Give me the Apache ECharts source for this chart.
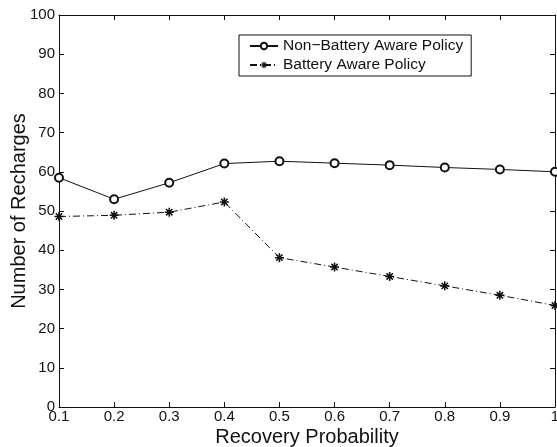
<!DOCTYPE html>
<html>
<head>
<meta charset="utf-8">
<style>
  html, body { margin: 0; padding: 0; background: #fff; }
  #chart { width: 557px; height: 447px; }
</style>
<script src="https://cdn.jsdelivr.net/npm/echarts@6/dist/echarts.min.js"></script>
</head>
<body>
<div id="chart"></div>
<script>
// Recovery probability on the x axis
const categories = ['0.1', '0.2', '0.3', '0.4', '0.5', '0.6', '0.7', '0.8', '0.9', '1'];
// Number of recharges per policy
const nonBatteryAware = [58.5, 53.0, 57.2, 62.1, 62.7, 62.2, 61.7, 61.1, 60.6, 60.0];
const batteryAware = [48.6, 48.9, 49.7, 52.3, 38.1, 35.7, 33.3, 30.9, 28.5, 25.9];
const seriesNames = ['Non\u2212Battery Aware Policy', 'Battery Aware Policy'];

const FONT = 'Liberation Sans, Arial, Helvetica, sans-serif';
const INK = '#111';

// Asterisk marker: a plus and a cross overlaid
const asterisk = 'path://M-1,-0.17L1,-0.17L1,0.17L-1,0.17Z' +
  'M-0.17,-1L0.17,-1L0.17,1L-0.17,1Z' +
  'M-0.587,-0.827L0.827,0.587L0.587,0.827L-0.827,-0.587Z' +
  'M-0.827,0.587L0.587,-0.827L0.827,-0.587L-0.587,0.827Z';

const tickStyle = { show: true, inside: true, length: 5, lineStyle: { color: INK, width: 1 } };
const lineAxis = { show: true, onZero: false, lineStyle: { color: INK, width: 1 } };

const chart = echarts.init(document.getElementById('chart'), null, { renderer: 'canvas' });
chart.setOption({
  animation: false,
  backgroundColor: '#fff',
  textStyle: { fontFamily: FONT },
  grid: { left: 59, right: 2, top: 15, bottom: 40, containLabel: false, outerBoundsMode: 'none' },
  legend: {
    orient: 'vertical',
    left: 239,
    top: 35,
    padding: [3, 8, 3, 10],
    itemWidth: 28,
    itemHeight: 8,
    itemGap: 3,
    backgroundColor: '#fff',
    borderColor: INK,
    borderWidth: 1,
    borderRadius: 0,
    textStyle: { fontFamily: FONT, fontSize: 15.5, color: INK },
    data: seriesNames
  },
  xAxis: [
    {
      type: 'category',
      data: categories,
      boundaryGap: false,
      position: 'bottom',
      axisLine: lineAxis,
      axisTick: tickStyle,
      axisLabel: { fontFamily: FONT, fontSize: 15, color: INK, margin: 2 },
      splitLine: { show: false },
      name: 'Recovery Probability',
      nameLocation: 'middle',
      nameMoveOverlap: false,
      nameGap: 30,
      nameTextStyle: { fontFamily: FONT, fontSize: 20, color: INK, verticalAlign: 'middle' }
    },
    {
      type: 'category',
      data: categories,
      boundaryGap: false,
      position: 'top',
      axisLine: lineAxis,
      axisTick: tickStyle,
      axisLabel: { show: false },
      splitLine: { show: false }
    }
  ],
  yAxis: [
    {
      type: 'value',
      min: 0,
      max: 100,
      interval: 10,
      position: 'left',
      axisLine: lineAxis,
      axisTick: tickStyle,
      axisLabel: { fontFamily: FONT, fontSize: 15, color: INK, margin: 4 },
      splitLine: { show: false },
      name: 'Number of Recharges',
      nameLocation: 'middle',
      nameMoveOverlap: false,
      nameGap: 40,
      nameTextStyle: { fontFamily: FONT, fontSize: 20, color: INK, verticalAlign: 'middle' }
    },
    {
      type: 'value',
      min: 0,
      max: 100,
      interval: 10,
      position: 'right',
      axisLine: lineAxis,
      axisTick: tickStyle,
      axisLabel: { show: false },
      splitLine: { show: false }
    }
  ],
  series: [
    {
      name: seriesNames[0],
      type: 'line',
      data: nonBatteryAware,
      symbol: 'emptyCircle',
      symbolSize: 8,
      showAllSymbol: true,
      lineStyle: { color: INK, width: 1, type: 'solid' },
      itemStyle: { color: INK, borderColor: INK, borderWidth: 1 }
    },
    {
      name: seriesNames[1],
      type: 'line',
      data: batteryAware,
      symbol: asterisk,
      symbolSize: 9,
      showAllSymbol: true,
      lineStyle: { color: INK, width: 1, type: [7, 3, 1, 3] },
      itemStyle: { color: INK, borderWidth: 0 }
    }
  ]
});
</script>
</body>
</html>
